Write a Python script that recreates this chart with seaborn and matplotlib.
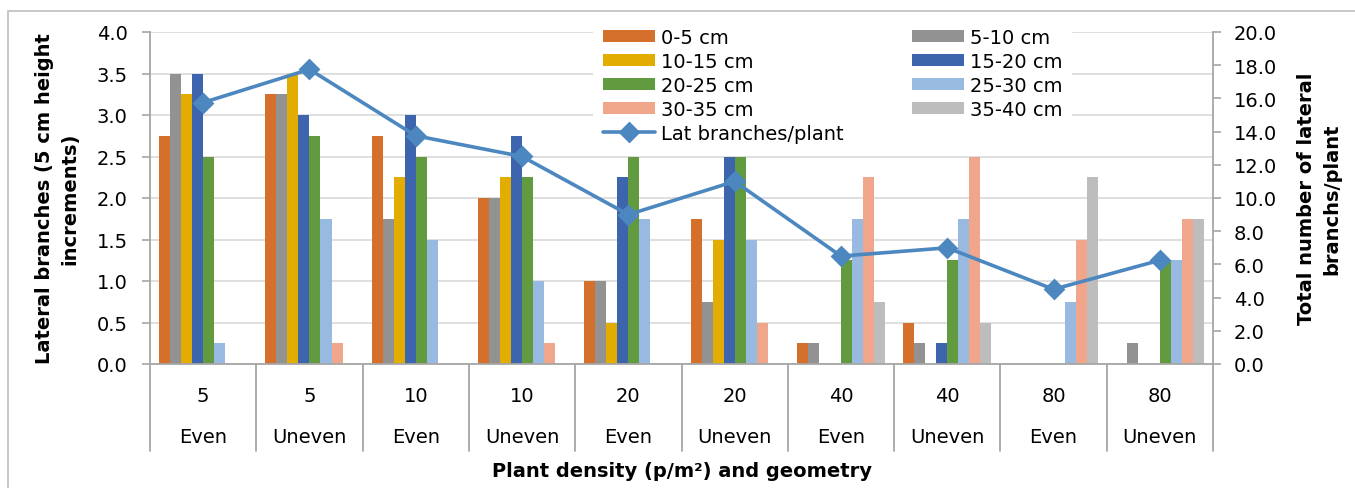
import numpy as np
import pandas as pd
import matplotlib
matplotlib.use("Agg")
import matplotlib.pyplot as plt
from matplotlib.patches import Rectangle
import seaborn as sns

# categories
density = ["5", "5", "10", "10", "20", "20", "40", "40", "80", "80"]
geometry = ["Even", "Uneven"] * 5
groups = [d + " " + g for d, g in zip(density, geometry)]
heights = ["0-5 cm", "5-10 cm", "10-15 cm", "15-20 cm",
           "20-25 cm", "25-30 cm", "30-35 cm", "35-40 cm"]

# lateral branches per 5 cm height increment
h0_5 = [2.75, 3.25, 2.75, 2.0, 1.0, 1.75, 0.25, 0.5, 0, 0]
h5_10 = [3.5, 3.25, 1.75, 2.0, 1.0, 0.75, 0.25, 0.25, 0, 0.25]
h10_15 = [3.25, 3.5, 2.25, 2.25, 0.5, 1.5, 0, 0, 0, 0]
h15_20 = [3.5, 3.0, 3.0, 2.75, 2.25, 2.5, 0, 0.25, 0, 0]
h20_25 = [2.5, 2.75, 2.5, 2.25, 2.5, 2.5, 1.25, 1.25, 0, 1.25]
h25_30 = [0.25, 1.75, 1.5, 1.0, 1.75, 1.5, 1.75, 1.75, 0.75, 1.25]
h30_35 = [0, 0.25, 0, 0.25, 0, 0.5, 2.25, 2.5, 1.5, 1.75]
h35_40 = [0, 0, 0, 0, 0, 0, 0.75, 0.5, 2.25, 1.75]

# total lateral branches per plant (right axis)
lat_total = [15.75, 17.75, 13.75, 12.5, 9.0, 11.0, 6.5, 7.0, 4.5, 6.25]

colors = ["#D4702C", "#929292", "#E2AC00", "#3C65AD",
          "#629A40", "#98B9E0", "#F0A68A", "#BDBDBD"]
line_color = "#4C87C0"

series = [h0_5, h5_10, h10_15, h15_20, h20_25, h25_30, h30_35, h35_40]
df = pd.DataFrame({
    "group": groups * len(heights),
    "height": np.repeat(heights, len(groups)),
    "value": np.concatenate(series),
})

sns.set_theme(style="white")
plt.rcParams["font.family"] = ["DejaVu Sans"]
plt.rcParams.update({"text.color": "black", "axes.labelcolor": "black",
                     "xtick.color": "black", "ytick.color": "black"})
fs = 14

fig = plt.figure(figsize=(13.55, 4.89), dpi=100)
ax = fig.add_axes([150 / 1355, 1 - 365 / 489, 1063 / 1355, 332 / 489])

sns.barplot(data=df, x="group", y="value", hue="height", order=groups,
            hue_order=heights, palette=colors, width=0.83, linewidth=0,
            saturation=1, ax=ax)
bar_handles, bar_labels = ax.get_legend_handles_labels()
ax.get_legend().remove()

ax.set_ylim(0, 4)
ax.set_yticks(np.arange(0, 4.01, 0.5))
ax.set_yticklabels([f"{v:.1f}" for v in np.arange(0, 4.01, 0.5)], fontsize=fs)
ax.yaxis.grid(True, color="#D9D9D9", lw=1.2)
ax.set_axisbelow(True)
ax.tick_params(axis="y", length=6, width=1.2, color="#A6A6A6",
               labelcolor="black", pad=10, left=True)
ax.tick_params(axis="x", length=0, labelbottom=False)
ax.set_xlabel("")
ax.set_ylabel("Lateral branches (5 cm height\nincrements)", fontsize=fs,
              fontweight="bold", linespacing=1.45)
ax.yaxis.set_label_coords(-0.066, 0.5)
for s in ["left", "bottom"]:
    ax.spines[s].set_color("#A6A6A6")
    ax.spines[s].set_linewidth(1.3)
ax.spines["top"].set_visible(False)
ax.spines["right"].set_visible(False)

ax2 = ax.twinx()
sns.pointplot(x=groups, y=lat_total, order=groups, color=line_color,
              markers="D", markersize=9, linewidth=2.6, errorbar=None,
              label="Lat branches/plant", ax=ax2)
ax2.set_ylim(0, 20)
ax2.set_yticks(np.arange(0, 20.01, 2))
ax2.set_yticklabels([f"{v:.1f}" for v in np.arange(0, 20.01, 2)], fontsize=fs)
ax2.tick_params(axis="y", length=6, width=1.2, color="#A6A6A6",
                labelcolor="black", pad=9, right=True)
ax2.set_ylabel("Total number of lateral\nbranchs/plant", fontsize=fs,
               fontweight="bold", linespacing=1.45)
ax2.yaxis.set_label_coords(1.079, 0.5)
for s in ["left", "bottom", "top"]:
    ax2.spines[s].set_visible(False)
ax2.spines["right"].set_color("#A6A6A6")
ax2.spines["right"].set_linewidth(1.3)

# two-level category labels
trans = ax.get_xaxis_transform()
for i, (d, g) in enumerate(zip(density, geometry)):
    ax.text(i, -0.095, d, transform=trans, ha="center", va="center", fontsize=fs)
    ax.text(i, -0.218, g, transform=trans, ha="center", va="center", fontsize=fs)
for b in np.arange(-0.5, len(groups), 1.0):
    ax.plot([b, b], [0, -0.262], transform=trans, clip_on=False,
            color="#A6A6A6", lw=1.3)
ax.set_xlim(-0.5, len(groups) - 0.5)
ax.text(0.5, -0.32, "Plant density (p/m²) and geometry",
        transform=ax.transAxes, ha="center", va="center", fontsize=fs,
        fontweight="bold")

# legend: row-wise order in two columns
line_handles, line_labels = ax2.get_legend_handles_labels()
handles = [bar_handles[i] for i in [0, 2, 4, 6]] + line_handles[:1] + \
          [bar_handles[i] for i in [1, 3, 5, 7]]
labels = [bar_labels[i] for i in [0, 2, 4, 6]] + line_labels[:1] + \
         [bar_labels[i] for i in [1, 3, 5, 7]]
leg = ax2.legend(handles, labels, ncol=2, loc="upper left",
                 bbox_to_anchor=(593 / 1355, 1 - 19 / 489),
                 bbox_transform=fig.transFigure, fontsize=fs,
                 frameon=True, facecolor="white", edgecolor="none",
                 framealpha=1, fancybox=False, borderpad=0.5,
                 handlelength=2.7, handleheight=0.6, handletextpad=0.3,
                 columnspacing=3.5, labelspacing=0.26, borderaxespad=0)

# outer chart frame
fig.patches.append(Rectangle((8 / 1355, -0.1), 1.2, 1.1 - 12 / 489,
                             transform=fig.transFigure, fill=False,
                             edgecolor="#BFBFBF", lw=1.2))

fig.savefig("out.png", dpi=100)
